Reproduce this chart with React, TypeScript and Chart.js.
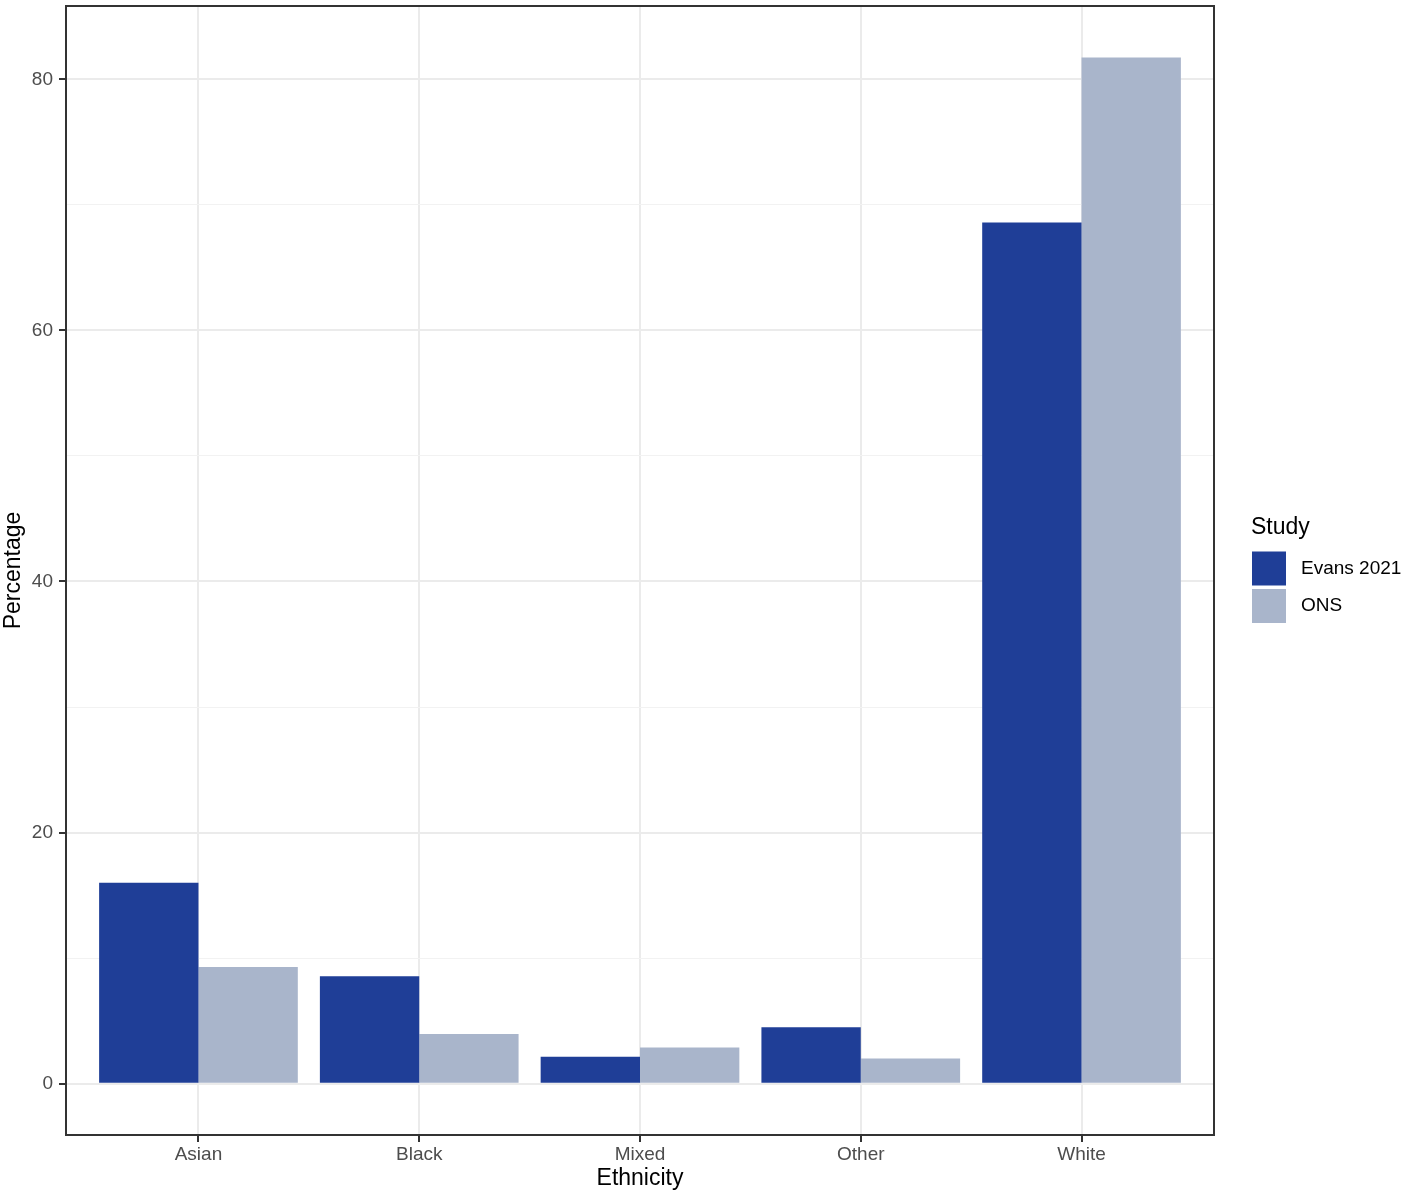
import React, { useEffect, useRef } from 'react';
import { Chart, registerables } from 'chart.js';

Chart.register(...registerables);

const categories = ['Asian', 'Black', 'Mixed', 'Other', 'White'];
const evans2021 = [16.0, 8.55, 2.15, 4.5, 68.6];
const ons = [9.3, 3.95, 2.87, 2.01, 81.73];
const seriesNames = ['Evans 2021', 'ONS'];
const seriesColors = ['#1F3E97', '#A9B5CB'];
const yTickValues = [0, 10, 20, 30, 40, 50, 60, 70, 80];
const legendTitle = 'Study';

const FONT = '"Liberation Sans", Arial, sans-serif';

// panel border + legend, drawn in ggplot style
const ggPlugin = {
  id: 'ggExtras',
  afterDraw(chart: any) {
    const { ctx, chartArea } = chart;
    ctx.save();
    ctx.strokeStyle = '#333333';
    ctx.lineWidth = 2;
    ctx.strokeRect(chartArea.left, chartArea.top, chartArea.right - chartArea.left, chartArea.bottom - chartArea.top);

    const x0 = chartArea.right + 37;
    const mid = (chartArea.top + chartArea.bottom) / 2;
    const top = mid - 52;
    ctx.fillStyle = '#000000';
    ctx.font = `23px ${FONT}`;
    ctx.textBaseline = 'alphabetic';
    ctx.textAlign = 'left';
    ctx.fillText(legendTitle, x0, top + 15);
    chart.data.datasets.forEach((ds: any, i: number) => {
      const y = top + 33 + i * 37.5;
      ctx.fillStyle = ds.backgroundColor;
      ctx.fillRect(x0 + 1, y, 34, 34);
      ctx.fillStyle = '#000000';
      ctx.font = `19px ${FONT}`;
      ctx.textBaseline = 'middle';
      ctx.fillText(ds.label, x0 + 50, y + 17);
    });
    ctx.restore();
  },
};

function BarChart() {
  const canvasRef = useRef<HTMLCanvasElement | null>(null);
  useEffect(() => {
    if (!canvasRef.current) return;
    const series = [evans2021, ons];
    const c = new Chart(canvasRef.current, {
      type: 'bar',
      data: {
        datasets: series.map((vals, si) => ({
          label: seriesNames[si],
          data: vals.map((v, i) => ({ x: i + 1, y: v })),
          backgroundColor: seriesColors[si],
          borderWidth: 0,
          categoryPercentage: 0.9,
          barPercentage: 1.0,
        })),
      },
      options: {
        animation: false,
        responsive: true,
        maintainAspectRatio: false,
        layout: { padding: { left: 0, top: 6, right: 203, bottom: 0 } },
        plugins: { legend: { display: false }, tooltip: { enabled: false } },
        scales: {
          x: {
            type: 'linear',
            min: 0.4,
            max: 5.6,
            offset: false,
            afterBuildTicks: (scale: any) => {
              scale.ticks = categories.map((_, i) => ({ value: i + 1 }));
            },
            afterFit: (scale: any) => {
              scale.height = 64;
              scale.paddingLeft = 0;
              scale.paddingRight = 0;
            },
            ticks: {
              autoSkip: false,
              maxRotation: 0,
              padding: 1,
              color: '#4D4D4D',
              font: { family: FONT, size: 19 },
              callback: (v: any) => categories[Math.round(v) - 1] ?? '',
            },
            grid: {
              offset: false,
              color: '#EBEBEB',
              lineWidth: 2,
              tickColor: '#333333',
              tickLength: 7,
              tickWidth: 2,
            },
            border: { display: false },
            title: {
              display: true,
              text: 'Ethnicity',
              color: '#000000',
              font: { family: FONT, size: 23 },
              padding: { top: 0, bottom: 7 },
            },
          },
          y: {
            type: 'linear',
            min: -4.09,
            max: 85.84,
            afterBuildTicks: (scale: any) => {
              scale.ticks = yTickValues.map((v) => ({ value: v }));
            },
            afterFit: (scale: any) => {
              scale.width = 66;
              scale.paddingTop = 0;
              scale.paddingBottom = 0;
            },
            ticks: {
              padding: 6,
              color: '#4D4D4D',
              font: { family: FONT, size: 19 },
              callback: (v: any) => (v % 20 === 0 ? String(v) : ''),
            },
            grid: {
              color: (ctx: any) => (ctx.tick && ctx.tick.value % 20 === 0 ? '#EBEBEB' : '#F2F2F2'),
              lineWidth: (ctx: any) => (ctx.tick && ctx.tick.value % 20 === 0 ? 2 : 1),
              tickColor: (ctx: any) => (ctx.tick && ctx.tick.value % 20 === 0 ? '#333333' : 'rgba(0,0,0,0)'),
              tickLength: 7,
              tickWidth: 2,
            },
            border: { display: false },
            title: {
              display: true,
              text: 'Percentage',
              color: '#000000',
              font: { family: FONT, size: 23 },
              padding: { top: 0, bottom: 0 },
            },
          },
        },
      },
      plugins: [ggPlugin],
    } as any);
    return () => {
      c.destroy();
    };
  }, []);
  return <canvas ref={canvasRef} />;
}

export default function App() {
  return (
    <div style={{ position: 'absolute', left: 0, top: 0, width: 1417, height: 1199, background: '#ffffff' }}>
      <BarChart />
    </div>
  );
}
